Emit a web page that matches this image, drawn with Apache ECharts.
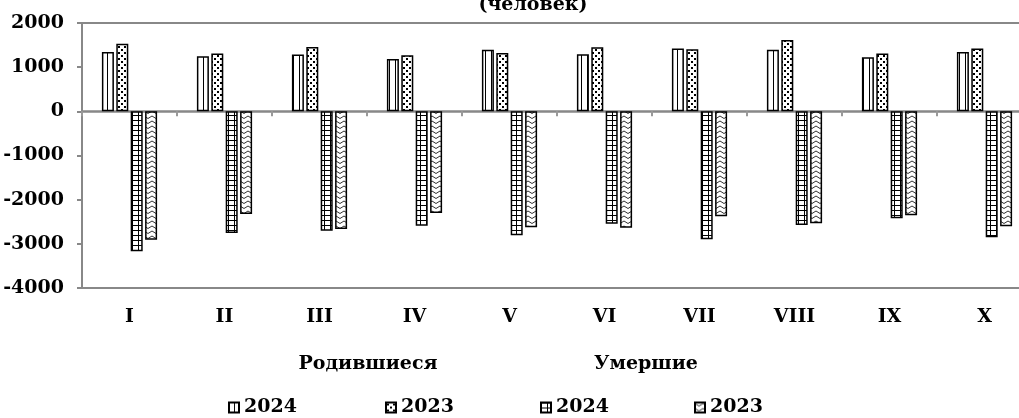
<!DOCTYPE html>
<html>
<head>
<meta charset="utf-8">
<script src="https://cdn.jsdelivr.net/npm/echarts@6/dist/echarts.min.js"></script>
<style>
html, body { margin: 0; padding: 0; background: #fff; }
#chart { width: 1019px; height: 418px; }
</style>
</head>
<body>
<div id="chart"></div>
<script>
// месяцы
var months = ['I', 'II', 'III', 'IV', 'V', 'VI', 'VII', 'VIII', 'IX', 'X'];
// родившиеся
var born2024 = [1343, 1246, 1284, 1185, 1397, 1291, 1420, 1397, 1223, 1343];
var born2023 = [1533, 1307, 1457, 1268, 1321, 1450, 1404, 1615, 1307, 1420];
// умершие (со знаком минус)
var died2024 = [-3170, -2756, -2703, -2589, -2808, -2544, -2896, -2573, -2422, -2851];
var died2023 = [-2906, -2326, -2665, -2301, -2627, -2634, -2377, -2535, -2354, -2603];
var yTicks = [-4000, -3000, -2000, -1000, 0, 1000, 2000];

var font = 'DejaVu Serif';

// штриховки для столбцов
function tile(w, h, draw) {
	var c = document.createElement('canvas');
	c.width = w;
	c.height = h;
	var ctx = c.getContext('2d');
	ctx.fillStyle = '#fff';
	ctx.fillRect(0, 0, w, h);
	ctx.fillStyle = '#000';
	ctx.strokeStyle = '#000';
	draw(ctx);
	return { image: c, repeat: 'repeat' };
}
var patStripes = tile(6, 4, function (ctx) {
	ctx.fillRect(5, 0, 1, 4);
});
var patDots = tile(6, 6, function (ctx) {
	ctx.fillRect(1, 1, 2, 2);
	ctx.fillRect(4, 4, 2, 2);
});
var patGrid = tile(6, 5, function (ctx) {
	ctx.fillRect(0, 0, 6, 1);
	ctx.fillRect(0, 0, 1, 5);
});
var patWave = tile(8, 5, function (ctx) {
	ctx.strokeStyle = '#333';
	ctx.lineWidth = 1;
	ctx.beginPath();
	ctx.moveTo(0, 1);
	ctx.lineTo(4, 3.5);
	ctx.lineTo(8, 1);
	ctx.stroke();
});

function barSeries(name, data, pattern) {
	return {
		name: name,
		type: 'bar',
		data: data,
		xAxisIndex: 0,
		barWidth: 12,
		barGap: '20%',
		itemStyle: { color: pattern, borderColor: '#000', borderWidth: 1.5 },
		emphasis: { disabled: true }
	};
}

function legendAt(name, x) {
	return {
		data: [name],
		left: x,
		top: 398,
		padding: 0,
		itemWidth: 10,
		itemHeight: 10,
		itemGap: 0,
		icon: 'rect',
		formatter: function (n) { return n.split(' ')[1]; },
		textStyle: { fontFamily: font, fontWeight: 'bold', fontSize: 19, color: '#000' }
	};
}

var titleStyle = { fontFamily: font, fontWeight: 'bold', fontSize: 19, color: '#000' };
var labelStyle = { fontFamily: font, fontWeight: 'bold', fontSize: 19, color: '#000' };

var chart = echarts.init(document.getElementById('chart'), null, { renderer: 'canvas' });
var option = {
	animation: false,
	backgroundColor: '#fff',
	title: [
		{ text: '(человек)', left: 533, top: -4, padding: 0, textAlign: 'center', textStyle: titleStyle },
		{ text: 'Родившиеся', left: 368, top: 355, padding: 0, textAlign: 'center', textStyle: titleStyle },
		{ text: 'Умершие', left: 646, top: 355, padding: 0, textAlign: 'center', textStyle: titleStyle }
	],
	legend: [
		legendAt('Родившиеся 2024', 228),
		legendAt('Родившиеся 2023', 385),
		legendAt('Умершие 2024', 540),
		legendAt('Умершие 2023', 694)
	],
	grid: {
		left: 82,
		top: 23,
		width: 950,
		height: 265,
		outerBoundsMode: 'none',
		containLabel: false,
		show: true,
		borderColor: '#888',
		borderWidth: 2
	},
	xAxis: [
		{
			// ось на нуле, только линия и засечки
			type: 'category',
			data: months,
			position: 'top',
			axisLine: { onZero: true, lineStyle: { color: '#888', width: 2.5 } },
			axisTick: { show: true, inside: true, length: 5, lineStyle: { color: '#999', width: 2 } },
			axisLabel: { show: false }
		},
		{
			// подписи месяцев внизу
			type: 'category',
			data: months,
			position: 'bottom',
			axisLine: { show: false, onZero: false },
			axisTick: { show: false },
			axisLabel: Object.assign({ margin: 20 }, labelStyle)
		}
	],
	yAxis: {
		type: 'value',
		min: yTicks[0],
		max: yTicks[yTicks.length - 1],
		interval: 1000,
		splitLine: { show: false },
		axisLine: { show: true, lineStyle: { color: '#888', width: 2 } },
		axisTick: { show: true, length: 5, lineStyle: { color: '#888', width: 2 } },
		axisLabel: Object.assign({
			margin: 18,
			formatter: function (v) { return String(v); }
		}, labelStyle)
	},
	series: [
		barSeries('Родившиеся 2024', born2024, patStripes),
		barSeries('Родившиеся 2023', born2023, patDots),
		barSeries('Умершие 2024', died2024, patGrid),
		barSeries('Умершие 2023', died2023, patWave)
	]
};
chart.setOption(option);
</script>
</body>
</html>
